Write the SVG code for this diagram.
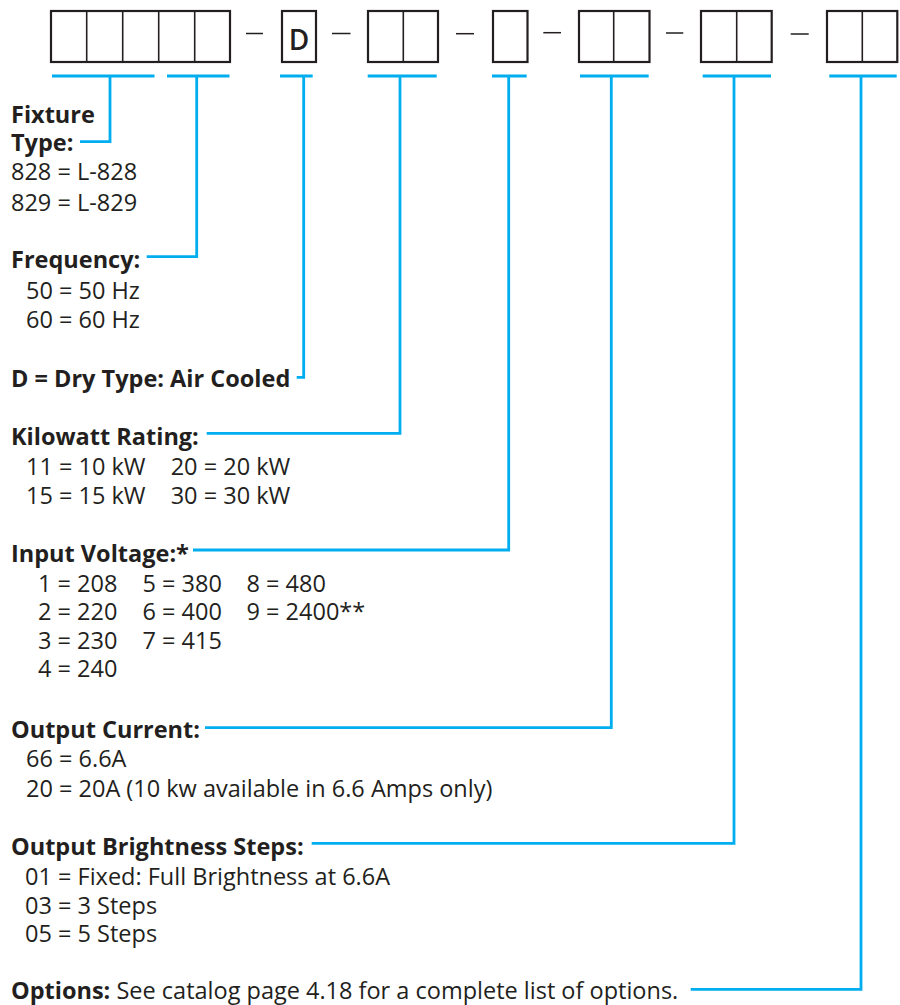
<svg xmlns="http://www.w3.org/2000/svg" width="900" height="1005" viewBox="0 0 900 1005">
<style>
.box{fill:none;stroke:#231f20;stroke-width:2.2}
.div{stroke:#231f20;stroke-width:1.6}
.dash{stroke:#231f20;stroke-width:1.5}
.conn{fill:none;stroke:#00aeef;stroke-width:2.8}
text{font-family:"Open Sans","Noto Sans","Liberation Sans",sans-serif;fill:#231f20;font-size:23.5px}
.b{font-weight:700}
.big{font-size:28px;font-weight:600}
</style>
<rect width="900" height="1005" fill="#fff"/>
<g id="code-boxes">
<g id="box-fixture-frequency">
<rect class="box" x="51" y="11" width="179" height="51"/>
<line class="div" x1="86.7" y1="11" x2="86.7" y2="62"/>
<line class="div" x1="122.7" y1="11" x2="122.7" y2="62"/>
<line class="div" x1="158.7" y1="11" x2="158.7" y2="62"/>
<line class="div" x1="194.7" y1="11" x2="194.7" y2="62"/>
</g>
<line class="dash" x1="246" y1="33.5" x2="263" y2="33.5"/>
<g id="box-d">
<rect class="box" x="282" y="11" width="34" height="51"/>
<text class="big" x="299" y="50" text-anchor="middle">D</text>
</g>
<line class="dash" x1="332" y1="33.5" x2="350.5" y2="33.5"/>
<g id="box-kw">
<rect class="box" x="368" y="11" width="70" height="51"/>
<line class="div" x1="403.3" y1="11" x2="403.3" y2="62"/>
</g>
<line class="dash" x1="456" y1="33.7" x2="474" y2="33.7"/>
<g id="box-voltage">
<rect class="box" x="493" y="11" width="34.5" height="51"/>
</g>
<line class="dash" x1="543.3" y1="32.7" x2="561" y2="32.7"/>
<g id="box-current">
<rect class="box" x="579" y="11" width="70.5" height="51"/>
<line class="div" x1="613.7" y1="11" x2="613.7" y2="62"/>
</g>
<line class="dash" x1="666" y1="33" x2="683.3" y2="33"/>
<g id="box-steps">
<rect class="box" x="701" y="11" width="70.7" height="51"/>
<line class="div" x1="736.7" y1="11" x2="736.7" y2="62"/>
</g>
<line class="dash" x1="790.7" y1="34" x2="808.7" y2="34"/>
<g id="box-options">
<rect class="box" x="827" y="11" width="70.3" height="51"/>
<line class="div" x1="862.3" y1="11" x2="862.3" y2="62"/>
</g>
</g>
<g id="connectors">
<path class="conn" d="M52,76H154.5M110,76V141.7H80"/>
<path class="conn" d="M167,76H229.5M196.7,76V256.7H146.7"/>
<path class="conn" d="M280,76H312.7M303.7,76V377.3H296.7"/>
<path class="conn" d="M367.7,76H436.7M400,76V433.3H206.7"/>
<path class="conn" d="M492,76H526.7M508.7,76V550H193"/>
<path class="conn" d="M580,76H648.7M611.3,76V727.7H205"/>
<path class="conn" d="M702.7,76H771M734,76V843.3H311.7"/>
<path class="conn" d="M829.3,76H896.7M861,76V989.3H690.7"/>
</g>
<g id="fixture-type">
<text class="b" x="11" y="122.5">Fixture</text>
<text class="b" x="11" y="150.5">Type:</text>
<text x="11" y="180">828 = L-828</text>
<text x="11" y="210.5">829 = L-829</text>
</g>
<g id="frequency">
<text class="b" x="11" y="268">Frequency:</text>
<text x="26" y="299">50 = 50 Hz</text>
<text x="26" y="327.5">60 = 60 Hz</text>
</g>
<g id="dry-type">
<text class="b" x="11" y="386.5">D = Dry Type: Air Cooled</text>
</g>
<g id="kilowatt">
<text class="b" x="11" y="445">Kilowatt Rating:</text>
<text x="26" y="475">11 = 10 kW</text>
<text x="170.7" y="475">20 = 20 kW</text>
<text x="26" y="504">15 = 15 kW</text>
<text x="170.7" y="504">30 = 30 kW</text>
</g>
<g id="input-voltage">
<text class="b" x="11" y="561.5">Input Voltage:*</text>
<text x="38" y="591.5">1 = 208</text>
<text x="142.5" y="591.5">5 = 380</text>
<text x="246.5" y="591.5">8 = 480</text>
<text x="38" y="620">2 = 220</text>
<text x="142.5" y="620">6 = 400</text>
<text x="246.5" y="620">9 = 2400**</text>
<text x="38" y="648.5">3 = 230</text>
<text x="142.5" y="648.5">7 = 415</text>
<text x="38" y="677">4 = 240</text>
</g>
<g id="output-current">
<text class="b" x="11" y="738">Output Current:</text>
<text x="26" y="767">66 = 6.6A</text>
<text x="26" y="796.5">20 = 20A (10 kw available in 6.6 Amps only)</text>
</g>
<g id="brightness-steps">
<text class="b" x="11" y="855">Output Brightness Steps:</text>
<text x="25" y="885">01 = Fixed: Full Brightness at 6.6A</text>
<text x="25" y="913.5">03 = 3 Steps</text>
<text x="25" y="942">05 = 5 Steps</text>
</g>
<g id="options">
<text x="11" y="999"><tspan class="b">Options:</tspan> See catalog page 4.18 for a complete list of options.</text>
</g>
</svg>
